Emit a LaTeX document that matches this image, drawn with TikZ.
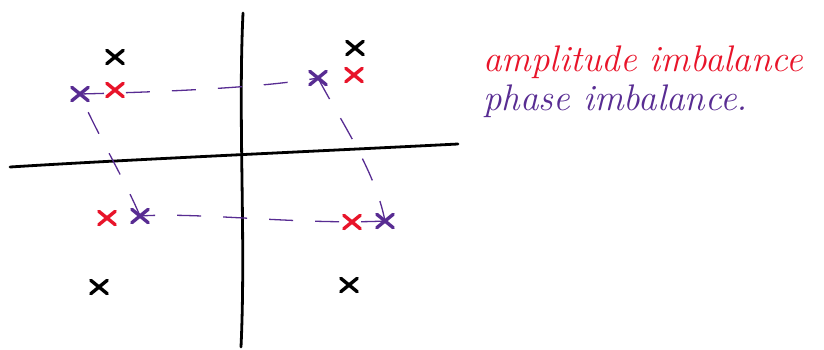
\documentclass[tikz,border=0pt]{standalone}
\usetikzlibrary{shapes.misc}
\definecolor{inkred}{RGB}{232,20,42}
\definecolor{inkpurple}{RGB}{88,44,146}
\begin{document}
\begin{tikzpicture}[x=1pt,y=-1pt,
  xmark/.style={cross out, draw, line width=3.4pt, minimum width=13pt, minimum height=10pt, inner sep=0pt, line cap=round},
  ideal/.style={xmark, draw=black},
  ampl/.style={xmark, draw=inkred},
  phase/.style={xmark, draw=inkpurple},
  axis/.style={line width=2.8pt, line cap=round},
  link/.style={draw=inkpurple, line width=1.3pt, dash pattern=on 24pt off 22pt},
  label/.style={anchor=base west, inner sep=0pt, font=\fontsize{37}{42}\selectfont\itshape}]
\useasboundingbox (0,0) rectangle (824,349);
\clip (0,0) rectangle (824,349);

% axes
\coordinate (xl) at (10,167);
\coordinate (xr) at (458,144);
\coordinate (yt) at (243,13);
\coordinate (yb) at (241,347);
\draw[axis] (xl) .. controls (120,160) and (300,152) .. (xr);
\draw[axis] (yt) .. controls (238,120) and (246,240) .. (yb);

% ideal constellation points
\node[ideal] (i1) at (115,57) {};
\node[ideal] (i2) at (355,48) {};
\node[ideal] (i3) at (99,287) {};
\node[ideal] (i4) at (349,285) {};

% amplitude imbalance
\node[ampl] (a1) at (115,90) {};
\node[ampl] (a2) at (354,75) {};
\node[ampl] (a3) at (107,218) {};
\node[ampl] (a4) at (352,222) {};

% phase imbalance
\node[phase] (p1) at (80,94) {};
\node[phase] (p2) at (318,78) {};
\node[phase] (p3) at (385,221) {};
\node[phase] (p4) at (140,216) {};

\draw[link] (p1.center) .. controls (160,92) and (260,88) .. (p2.center);
\draw[link] (p2.center) .. controls (340,120) and (375,170) .. (p3.center);
\draw[link] (p3.center) .. controls (300,225) and (200,212) .. (p4.center);
\draw[link] (p4.center) .. controls (125,180) and (95,130) .. (p1.center);

% legend
\node[label, text=inkred] (lamp) at (483,71) {amplitude imbalance};
\node[label, text=inkpurple] (lph) at (483,110) {phase imbalance.};
\end{tikzpicture}
\end{document}
